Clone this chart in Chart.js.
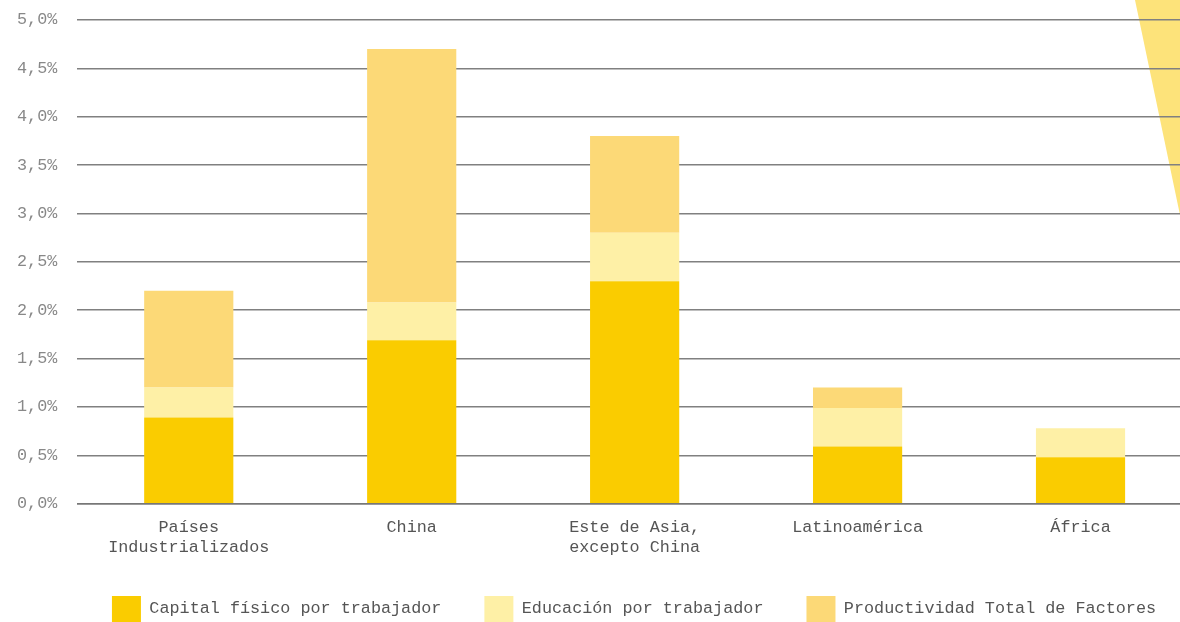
<!DOCTYPE html>
<html><head><meta charset="utf-8">
<script src="https://cdn.jsdelivr.net/npm/chart.js@4/dist/chart.umd.min.js"></script>
<style>
html,body{margin:0;padding:0;background:#fff;overflow:hidden;width:1180px;height:622px}
#wrap{position:absolute;left:0;top:0;width:1192px;height:622px}
canvas{display:block}
</style></head>
<body>
<div id="wrap"><canvas id="c" width="1192" height="622"></canvas></div>
<script>
const categories = [["Países","Industrializados"],"China",["Este de Asia,","excepto China"],"Latinoamérica","África"];
const capitalFisico = [0.89, 1.69, 2.30, 0.59, 0.48];
const educacion = [0.31, 0.39, 0.50, 0.40, 0.30];
const productividad = [1.00, 2.62, 1.00, 0.21, 0];
const seriesNames = ["Capital físico por trabajador","Educación por trabajador","Productividad Total de Factores"];
const seriesColors = ["#FACC00","#FEF0A6","#FCD977"];

const FONT = "'Liberation Mono', 'DejaVu Sans Mono', monospace";

const deco = {
  id:'deco',
  afterLayout(chart){
    const lg = chart.legend;
    if(!lg) return;
    const dx = 29.5, dy = -11;
    lg.left += dx; lg.right += dx;
    lg.top += dy; lg.bottom += dy;
  },
  beforeDraw(chart){
    const ctx = chart.ctx;
    ctx.save();
    ctx.fillStyle = '#FDE37A';
    ctx.beginPath();
    ctx.moveTo(1135,0); ctx.lineTo(1180,0); ctx.lineTo(1180,215); ctx.closePath();
    ctx.fill();
    ctx.restore();
  }
};

new Chart(document.getElementById('c'), {
  type:'bar',
  data:{
    labels: categories,
    datasets:[
      {label:seriesNames[0], data:capitalFisico, backgroundColor:seriesColors[0]},
      {label:seriesNames[1], data:educacion, backgroundColor:seriesColors[1]},
      {label:seriesNames[2], data:productividad, backgroundColor:seriesColors[2]}
    ]
  },
  options:{
    responsive:false,
    animation:false,
    devicePixelRatio:1,
    layout:{padding:{top:20,left:17,right:0,bottom:-21}},
    datasets:{bar:{barPercentage:0.8, categoryPercentage:0.5}},
    plugins:{
      legend:{
        position:'bottom',
        labels:{
          font:{family:FONT,size:16.8},
          color:'#555',
          boxWidth:29, boxHeight:26,
          padding:43
        }
      },
      tooltip:{enabled:false}
    },
    scales:{
      x:{
        stacked:true,
        grid:{display:false},
        border:{display:true, color:'#777', width:1.5, z:1},
        ticks:{font:{family:FONT,size:16.8}, color:'#555', padding:6, maxRotation:0}
      },
      y:{
        stacked:true,
        min:0, max:5,
        grid:{color:'#808080', lineWidth:1.5, drawTicks:true, tickLength:20, tickColor:'rgba(0,0,0,0)'},
        border:{display:false},
        ticks:{stepSize:0.5, font:{family:FONT,size:16.8}, color:'#888', padding:0,
          callback:v=>v.toFixed(1).replace('.',',')+'%'}
      }
    }
  },
  plugins:[deco]
});
</script>
</body></html>
